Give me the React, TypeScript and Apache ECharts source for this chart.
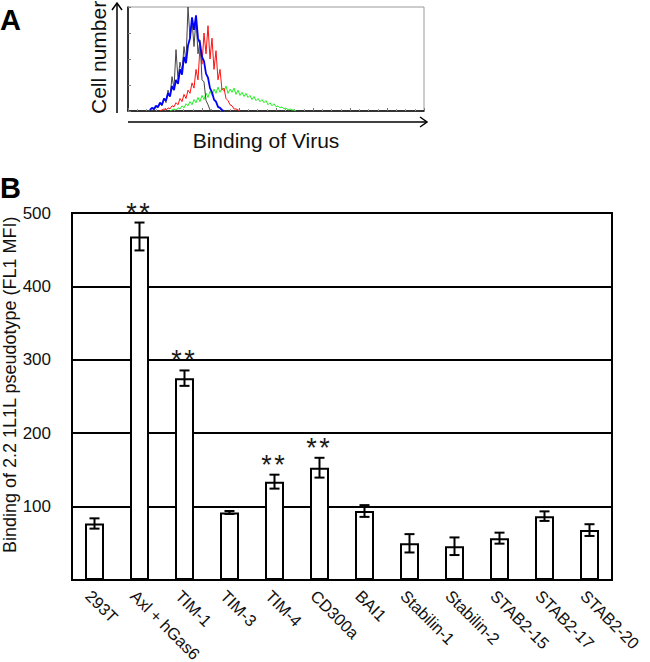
import { useEffect, useRef } from "react";
import * as echarts from "echarts";

// ---------- Panel B data ----------
const categories = [
  "293T", "Axl + hGas6", "TIM-1", "TIM-3", "TIM-4", "CD300a",
  "BAI1", "Stabilin-1", "Stabilin-2", "STAB2-15", "STAB2-17", "STAB2-20",
];
const means = [77, 468, 275, 92, 134, 153, 94, 50, 46, 57, 87, 68];
const errors = [7, 19, 10.5, 2, 9.5, 13.5, 8, 12.5, 12, 7.5, 6.5, 8];
const significant = [false, true, true, false, true, true, false, false, false, false, false, false];
const yMin = 0;
const yMax = 500;
const yInterval = 100;
const yAxisTitle = "Binding of 2.2 1L1L pseudotype (FL1 MFI)";

// ---------- Panel A histogram data (channel, step 2) ----------
const histStep = 2;
const grayStart = 20;
const grayCounts = [0, 1, 3, 1, 4, 3, 7, 5, 12, 8, 20, 14, 33, 22, 59, 30, 47, 38, 62, 48, 100, 70, 87, 62, 89, 55, 68, 30, 28, 10, 6, 1, 0];
const blueStart = 22;
const blueCounts = [1, 3, 2, 5, 4, 8, 6, 12, 10, 17, 14, 24, 20, 30, 26, 40, 35, 52, 46, 63, 70, 90, 78, 92, 70, 65, 52, 48, 36, 32, 22, 18, 11, 9, 4, 3, 1, 0];
const redStart = 32;
const redCounts = [0, 1, 2, 1, 3, 2, 5, 4, 8, 6, 12, 9, 16, 12, 20, 17, 27, 22, 40, 30, 62, 45, 75, 55, 82, 50, 70, 40, 58, 30, 40, 20, 22, 12, 10, 6, 5, 2, 2, 1, 0];
const greenStart = 42;
const greenCounts = [0, 1, 2, 1, 3, 2, 5, 3, 7, 5, 9, 6, 11, 8, 13, 9, 15, 11, 17, 13, 19, 15, 21, 17, 23, 18, 22, 19, 24, 17, 21, 18, 22, 16, 20, 15, 18, 14, 17, 13, 15, 11, 14, 10, 12, 9, 11, 8, 10, 6, 8, 5, 7, 4, 5, 3, 4, 2, 3, 1, 2, 1, 1, 0];
const channelMax = 296;
const countMax = 100;

const FONT = "'Liberation Sans', Arial, Helvetica, sans-serif";

function toPairs(start: number, counts: number[]) {
  return counts.map((c, i) => [start + i * histStep, c]);
}

export default function App() {
  const ref = useRef<HTMLDivElement>(null);

  useEffect(() => {
    if (!ref.current) return;
    const chart = echarts.init(ref.current, undefined, { renderer: "svg" });

    const errData = categories.map((_, i) => [i, means[i] - errors[i], means[i] + errors[i], significant[i] ? 1 : 0]);

    const histLine = (name: string, color: string, start: number, counts: number[], width: number) => ({
      name,
      type: "line",
      xAxisIndex: 1,
      yAxisIndex: 1,
      data: toPairs(start, counts),
      showSymbol: false,
      symbol: "none",
      lineStyle: { color, width },
      silent: true,
    });

    const starStyle = {
      text: "*",
      fontSize: 27,
      fontFamily: FONT,
      fill: "#1a1a1a",
      textAlign: "center",
      textVerticalAlign: "middle",
    };

    const option: any = {
      animation: false,
      textStyle: { fontFamily: FONT },
      grid: [
        { left: 72, top: 213, right: 38, bottom: 82, outerBoundsMode: "none", containLabel: false, show: true, borderColor: "#000", borderWidth: 2, backgroundColor: "transparent" },
        { left: 128, top: 7, width: 296, height: 104, outerBoundsMode: "none", containLabel: false, show: true, borderColor: "#999", borderWidth: 1 },
      ],
      xAxis: [
        {
          type: "category",
          gridIndex: 0,
          data: categories,
          axisLine: { show: true, lineStyle: { color: "#000", width: 2 } },
          axisTick: { show: false },
          axisLabel: {
            rotate: -45,
            fontSize: 16.5,
            color: "#111",
            fontFamily: FONT,
            margin: 7,
            verticalAlign: "top",
            interval: 0,
          },
          splitLine: { show: false },
        },
        {
          type: "value",
          gridIndex: 1,
          min: 0,
          max: channelMax,
          interval: 37,
          axisLine: { show: true, lineStyle: { color: "#000", width: 1.5 } },
          axisTick: { show: true, inside: true, length: 3, lineStyle: { color: "#777" } },
          minorTick: { show: true, splitNumber: 4, length: 2, lineStyle: { color: "#999" } },
          axisLabel: { show: false },
          splitLine: { show: false },
        },
      ],
      yAxis: [
        {
          type: "value",
          gridIndex: 0,
          min: yMin,
          max: yMax,
          interval: yInterval,
          axisLine: { show: true, lineStyle: { color: "#000", width: 2 } },
          axisTick: { show: false },
          axisLabel: {
            fontSize: 17,
            color: "#111",
            fontFamily: FONT,
            margin: 21,
            formatter: (v: number) => (v === 0 ? "" : String(v)),
          },
          splitLine: { show: true, lineStyle: { color: "#000", width: 2 } },
        },
        {
          type: "value",
          gridIndex: 1,
          min: 0,
          max: countMax,
          interval: 25,
          axisLine: { show: true, lineStyle: { color: "#000", width: 1.5 } },
          axisTick: { show: true, inside: true, length: 3, lineStyle: { color: "#777" } },
          axisLabel: { show: false },
          splitLine: { show: false },
        },
      ],
      series: [
        {
          type: "bar",
          xAxisIndex: 0,
          yAxisIndex: 0,
          data: means,
          barWidth: 19,
          itemStyle: { color: "#fff", borderColor: "#000", borderWidth: 2 },
          silent: true,
          z: 3,
        },
        {
          type: "custom",
          xAxisIndex: 0,
          yAxisIndex: 0,
          data: errData,
          encode: { x: 0, y: [1, 2] },
          z: 4,
          silent: true,
          renderItem: (params: any, api: any) => {
            const i = api.value(0);
            const lo = api.coord([i, api.value(1)]);
            const hi = api.coord([i, api.value(2)]);
            const half = 5;
            const stroke = { stroke: "#000", lineWidth: 2 };
            const children: any[] = [
              { type: "line", shape: { x1: hi[0], y1: hi[1], x2: lo[0], y2: lo[1] }, style: stroke },
              { type: "line", shape: { x1: hi[0] - half, y1: hi[1], x2: hi[0] + half, y2: hi[1] }, style: stroke },
              { type: "line", shape: { x1: lo[0] - half, y1: lo[1], x2: lo[0] + half, y2: lo[1] }, style: stroke },
            ];
            if (api.value(3) === 1) {
              const sy = hi[1] - 10;
              children.push({ type: "text", x: hi[0] - 8, y: sy, style: starStyle });
              children.push({ type: "text", x: hi[0] + 5, y: sy, style: starStyle });
            }
            return { type: "group", children };
          },
        },
        histLine("green", "#22ee22", greenStart, greenCounts, 1),
        histLine("red", "#ff1111", redStart, redCounts, 1),
        histLine("black", "#444", grayStart, grayCounts, 1),
        histLine("blue", "#0000ff", blueStart, blueCounts, 1.8),
      ],
      graphic: [
        { type: "text", left: 0, top: 5, style: { text: "A", fontSize: 29, fontWeight: "bold", fontFamily: FONT, fill: "#000" } },
        { type: "text", left: 0, top: 173, style: { text: "B", fontSize: 29, fontWeight: "bold", fontFamily: FONT, fill: "#000" } },
        { type: "line", shape: { x1: 117, y1: 113, x2: 117, y2: 3 }, style: { stroke: "#000", lineWidth: 1.5 } },
        { type: "polyline", shape: { points: [[112, 10], [117, 3], [122, 10]] }, style: { stroke: "#000", lineWidth: 1.5, fill: null } },
        { type: "line", shape: { x1: 128, y1: 122, x2: 427, y2: 122 }, style: { stroke: "#000", lineWidth: 1.5 } },
        { type: "polyline", shape: { points: [[420, 117], [427, 122], [420, 127]] }, style: { stroke: "#000", lineWidth: 1.5, fill: null } },
        {
          type: "text",
          x: 98,
          y: 114,
          rotation: Math.PI / 2,
          style: { text: "Cell number", fontSize: 21, fontFamily: FONT, fill: "#111", textAlign: "left", textVerticalAlign: "middle" },
        },
        {
          type: "text",
          x: 266,
          y: 140,
          style: { text: "Binding of Virus", fontSize: 21, fontFamily: FONT, fill: "#111", textAlign: "center", textVerticalAlign: "middle" },
        },
        {
          type: "text",
          x: 10,
          y: 553,
          rotation: Math.PI / 2,
          style: { text: yAxisTitle, fontSize: 18, fontFamily: FONT, fill: "#111", textAlign: "left", textVerticalAlign: "middle" },
        },
      ],
    };

    chart.setOption(option);
    return () => chart.dispose();
  }, []);

  return (
    <div
      ref={ref}
      style={{ position: "absolute", left: 0, top: 0, width: 650, height: 662, background: "#fff" }}
    />
  );
}
